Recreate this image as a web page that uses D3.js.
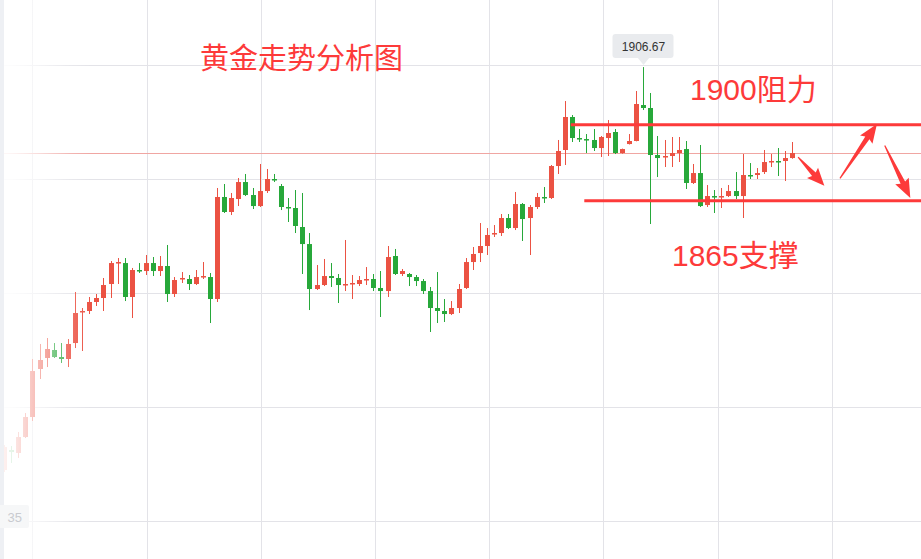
<!DOCTYPE html>
<html><head><meta charset="utf-8">
<script src="https://cdn.jsdelivr.net/npm/d3@7/dist/d3.min.js"></script>
<style>html,body{margin:0;padding:0;background:#fff;overflow:hidden}</style>
</head><body>
<svg id="c" width="921" height="559"></svg>
<script>
// ---- data (gold price candles) ----
const opens = [1843.05,1846.21,1845.74,1848.26,1851.42,1859.00,1860.74,1862.00,1860.89,1860.58,
1863.10,1868.00,1868.16,1869.58,1870.21,1872.42,1875.73,1875.73,1870.37,1874.63,
1874.47,1875.73,1874.47,1875.26,1870.84,1873.21,1873.21,1872.42,1873.52,1873.52,
1870.05,1886.16,1883.79,1885.84,1888.52,1886.47,1884.73,1887.10,1889.00,1887.89,
1884.58,1884.42,1881.42,1878.73,1871.63,1872.26,1873.68,1873.37,1872.26,1872.42,
1872.42,1873.05,1873.21,1871.79,1871.31,1876.84,1874.00,1874.00,1873.52,1872.89,
1871.31,1868.63,1868.16,1867.68,1868.63,1871.79,1875.89,1877.31,1878.42,1880.31,
1880.47,1882.84,1881.26,1885.05,1882.84,1884.58,1886.16,1886.00,1891.05,1893.58,
1898.79,1895.47,1895.31,1895.16,1893.89,1895.47,1896.42,1893.10,1894.52,1895.00,
1900.68,1900.21,1892.79,1892.47,1892.63,1893.10,1893.73,1888.37,1889.94,1884.89,
1886.31,1886.16,1886.31,1887.10,1886.31,1889.63,1889.63,1890.10,1891.68,1891.84,
1891.84,1892.31];
const highs = [1847.00,1846.84,1849.05,1852.05,1860.58,1862.95,1863.89,1863.10,1863.10,1863.73,
1871.16,1868.63,1870.37,1870.84,1873.37,1876.05,1876.52,1876.52,1874.95,1875.73,
1877.00,1876.68,1876.84,1878.58,1873.52,1874.31,1873.84,1874.63,1875.89,1874.16,
1887.58,1888.21,1886.79,1889.16,1889.79,1887.58,1891.37,1890.58,1889.79,1888.21,
1886.00,1887.26,1886.79,1880.47,1875.42,1876.37,1875.73,1874.00,1879.37,1873.84,
1873.68,1875.10,1874.00,1874.47,1878.42,1877.95,1874.79,1874.16,1873.84,1873.21,
1871.95,1874.31,1870.05,1869.73,1872.42,1876.52,1878.26,1882.05,1881.26,1881.73,
1883.47,1883.47,1886.95,1885.21,1884.89,1886.79,1887.73,1891.21,1895.16,1901.31,
1899.10,1896.89,1896.10,1896.89,1895.79,1898.31,1896.89,1893.80,1896.10,1902.89,
1906.67,1902.58,1895.79,1895.16,1895.63,1895.63,1895.00,1891.37,1894.37,1888.05,
1887.26,1887.58,1888.05,1890.10,1892.94,1891.52,1890.73,1893.58,1892.94,1893.89,
1893.42,1894.84];
const lows = [1842.74,1844.16,1844.95,1848.10,1850.79,1857.42,1859.31,1860.74,1859.95,1859.31,
1862.31,1861.84,1867.68,1868.95,1868.16,1870.21,1872.42,1869.73,1867.05,1874.16,
1873.84,1873.68,1873.68,1869.58,1870.37,1872.58,1871.47,1872.26,1873.21,1866.26,
1869.58,1883.63,1883.31,1884.73,1886.31,1884.26,1884.58,1886.79,1888.52,1884.10,
1882.21,1880.47,1874.00,1868.31,1871.47,1872.10,1871.95,1869.42,1871.31,1870.05,
1872.10,1872.26,1871.31,1867.21,1870.37,1873.84,1873.68,1872.10,1872.10,1870.84,
1864.84,1866.26,1866.42,1867.52,1867.84,1871.63,1874.63,1875.89,1877.00,1879.84,
1880.00,1881.10,1880.94,1879.21,1877.00,1884.26,1885.21,1885.84,1889.79,1891.21,
1894.84,1894.84,1893.10,1893.42,1892.47,1892.63,1892.94,1893.00,1894.45,1894.95,
1899.89,1881.89,1889.31,1890.89,1890.89,1891.68,1887.42,1888.21,1884.58,1884.58,
1883.63,1884.42,1886.16,1885.84,1882.84,1889.00,1889.00,1889.79,1890.89,1889.47,
1888.68,1892.20];
const closes = [1846.68,1845.89,1848.26,1851.42,1858.68,1860.42,1862.16,1860.89,1860.58,1862.95,
1867.84,1868.16,1869.58,1870.21,1872.26,1875.73,1875.89,1870.37,1874.63,1874.47,
1875.73,1874.47,1875.26,1870.84,1873.05,1873.37,1872.42,1873.52,1873.68,1870.05,
1886.16,1883.79,1886.00,1888.52,1886.47,1884.73,1887.10,1889.00,1888.84,1884.58,
1884.42,1881.58,1878.73,1871.63,1872.26,1873.68,1873.37,1872.26,1872.42,1872.58,
1873.05,1873.21,1871.79,1871.31,1876.68,1874.00,1874.47,1873.52,1872.89,1871.31,
1868.63,1868.16,1867.68,1868.63,1871.63,1875.89,1877.16,1878.42,1880.16,1880.47,
1882.84,1881.26,1885.05,1882.68,1884.58,1886.16,1886.00,1891.05,1893.42,1898.79,
1895.47,1895.31,1895.16,1893.89,1895.63,1896.26,1893.10,1893.73,1895.00,1900.84,
1900.21,1892.79,1892.31,1892.63,1893.10,1893.58,1888.37,1889.94,1884.73,1886.31,
1886.16,1886.31,1887.10,1886.31,1889.63,1889.47,1889.94,1891.68,1891.84,1891.68,
1892.31,1893.10];

// grid ticks
const yGridTicks = [1835, 1853, 1871, 1889, 1907];
const yLabelTicks = [1835];
const yLabelTexts = ["35"];
const xGridIdx = [4, 20.1, 36.2, 52.2, 68.3, 84.3, 100.5, 116.6];

// annotations
const titleText = "黄金走势分析图";
const resistanceText = "1900阻力";
const supportText = "1865支撑";
const resistanceLevel = 1897.55;
const supportLevel = 1885.55;
const resistanceFrom = 79.8;
const supportFrom = 81.7;
const arrows = [
  {from:[111.8, 1892.45], to:[115.5, 1887.95]},
  {from:[117.7, 1889.10], to:[122.9, 1897.70]},
  {from:[124.0, 1894.30], to:[127.6, 1886.00]}
];
const maxLabel = "1906.67";

// ---- drawing ----
const W = 921, H = 559;
const svg = d3.select("#c");
const x = d3.scaleLinear().domain([0, 111]).range([4, 792.4]);
const y = d3.scaleLinear().domain([1835, 1907]).range([521, 65]);
const UP = "#eb5243", DOWN = "#27a83a", ANN = "#fd3a3a";

const candles = opens.map((o, i) => ({i, o, h: highs[i], l: lows[i], c: closes[i]}));

const defs = svg.append("defs");
const g = defs.append("linearGradient").attr("id", "fade")
  .attr("gradientUnits", "userSpaceOnUse").attr("x1", 0).attr("x2", 92).attr("y1", 0).attr("y2", 0);
[[0, 0.93], [12, 0.88], [25, 0.76], [40, 0.58], [55, 0.38], [70, 0.18], [92, 0]].forEach(([o, a]) =>
  g.append("stop").attr("offset", o / 92).attr("stop-color", "#fff").attr("stop-opacity", a));

// grid
svg.append("g").selectAll("line").data(xGridIdx).join("line")
  .attr("x1", d => Math.round(x(d)) + 0.5).attr("x2", d => Math.round(x(d)) + 0.5)
  .attr("y1", 0).attr("y2", H).attr("stroke", "#e3e3e8").attr("stroke-width", 1);
svg.append("g").selectAll("line").data(yGridTicks).join("line")
  .attr("x1", 0).attr("x2", W)
  .attr("y1", d => Math.round(y(d)) + 0.5).attr("y2", d => Math.round(y(d)) + 0.5)
  .attr("stroke", "#e3e3e8").attr("stroke-width", 1);

// last price line
svg.append("line").attr("x1", 0).attr("x2", W)
  .attr("y1", Math.round(y(closes[closes.length - 1])) + 0.5)
  .attr("y2", Math.round(y(closes[closes.length - 1])) + 0.5)
  .attr("stroke", "#f0a6a2").attr("stroke-width", 1);

// candles
const cg = svg.append("g");
const bw = 5;
cg.selectAll("line.wick").data(candles).join("line").attr("class", "wick")
  .attr("x1", d => Math.round(x(d.i)) + 0.5).attr("x2", d => Math.round(x(d.i)) + 0.5)
  .attr("y1", d => y(d.h)).attr("y2", d => y(d.l))
  .attr("stroke", d => d.c >= d.o ? UP : DOWN).attr("stroke-width", 1);
cg.selectAll("rect").data(candles).join("rect")
  .attr("x", d => Math.round(x(d.i)) + 0.5 - bw / 2)
  .attr("y", d => Math.min(y(d.o), y(d.c)))
  .attr("width", bw)
  .attr("height", d => Math.max(1.5, Math.abs(y(d.o) - y(d.c))))
  .attr("fill", d => d.c >= d.o ? UP : DOWN);

// left fade
svg.append("rect").attr("x", 0).attr("y", 0).attr("width", 92).attr("height", H).attr("fill", "url(#fade)");
svg.append("rect").attr("x", 0).attr("y", 0).attr("width", 4).attr("height", H).attr("fill", "#eef0f4");

// y label (partially visible)
const lab = svg.append("g");
lab.selectAll("rect").data(yLabelTicks).join("rect")
  .attr("x", -4).attr("y", d => y(d) - 16).attr("width", 33).attr("height", 23).attr("rx", 2)
  .attr("fill", "#f6f7f8");
lab.selectAll("text").data(yLabelTicks).join("text")
  .attr("x", 22).attr("y", d => y(d) + 1)
  .attr("text-anchor", "end").attr("font-family", "Liberation Sans, Arial, sans-serif")
  .attr("font-size", 13).attr("fill", "#c9cbd0").text((d, k) => yLabelTexts[k]);

// support / resistance
svg.append("line").attr("x1", x(resistanceFrom)).attr("x2", W)
  .attr("y1", y(resistanceLevel)).attr("y2", y(resistanceLevel))
  .attr("stroke", ANN).attr("stroke-width", 3);
svg.append("line").attr("x1", x(supportFrom)).attr("x2", W)
  .attr("y1", y(supportLevel)).attr("y2", y(supportLevel))
  .attr("stroke", ANN).attr("stroke-width", 3);

// arrows
function arrowPts(x0, y0, x1, y1) {
  const dx = x1 - x0, dy = y1 - y0, L = Math.hypot(dx, dy);
  const ux = dx / L, uy = dy / L, nx = -uy, ny = ux;
  const hl = Math.min(19, L * 0.45), w0 = 1.2, w1 = 5, hw = 15;
  const bx = x1 - ux * hl, by = y1 - uy * hl;
  const nb = 2; // notch
  return [
    [x0 + nx * w0 / 2, y0 + ny * w0 / 2],
    [bx + nx * w1 / 2 + ux * nb, by + ny * w1 / 2 + uy * nb],
    [bx + nx * hw / 2, by + ny * hw / 2],
    [x1, y1],
    [bx - nx * hw / 2, by - ny * hw / 2],
    [bx - nx * w1 / 2 + ux * nb, by - ny * w1 / 2 + uy * nb],
    [x0 - nx * w0 / 2, y0 - ny * w0 / 2]
  ];
}
svg.append("g").selectAll("polygon").data(arrows).join("polygon")
  .attr("points", d => arrowPts(x(d.from[0]), y(d.from[1]), x(d.to[0]), y(d.to[1])).map(p => p.join(",")).join(" "))
  .attr("fill", ANN);

// texts
const font = "'Liberation Sans', 'Noto Sans CJK SC', sans-serif";
svg.append("text").attr("x", 200).attr("y", 69).attr("font-family", "'Noto Sans CJK SC', sans-serif")
  .attr("font-size", 29).attr("fill", ANN).text(titleText);
svg.append("text").attr("x", 690).attr("y", 99.5).attr("font-family", font)
  .attr("font-size", 30).attr("fill", ANN).text(resistanceText);
svg.append("text").attr("x", 672).attr("y", 266).attr("font-family", font)
  .attr("font-size", 30).attr("fill", ANN).text(supportText);

// max tooltip
const mi = highs.indexOf(d3.max(highs));
const tx = Math.round(x(mi)) + 0.5, ty = y(highs[mi]) - 2;
const tip = svg.append("g");
tip.append("rect").attr("x", tx - 31).attr("y", ty - 31).attr("width", 61).attr("height", 24).attr("rx", 3)
  .attr("fill", "#e9ebee");
tip.append("path").attr("d", `M${tx - 6},${ty - 7.5} L${tx},${ty} L${tx + 6},${ty - 7.5} Z`).attr("fill", "#e9ebee");
tip.append("text").attr("x", tx).attr("y", ty - 14.5).attr("text-anchor", "middle")
  .attr("font-family", "'Liberation Sans', Arial, sans-serif").attr("font-size", 12).attr("fill", "#333")
  .text(maxLabel);
</script>
</body></html>
